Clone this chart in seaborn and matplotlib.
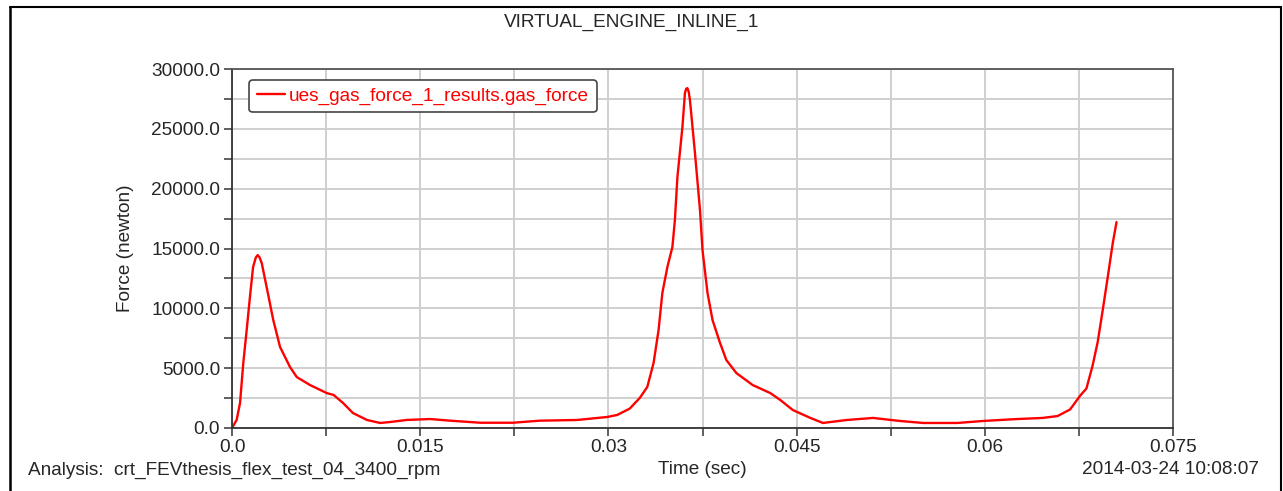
import matplotlib
matplotlib.use("Agg")
import matplotlib.pyplot as plt
from matplotlib.lines import Line2D
import seaborn as sns
import pandas as pd

# ---- data ----
time_sec = [0, 0.00037, 0.00064, 0.0009, 0.00117, 0.00143, 0.00168, 0.0019, 0.00205, 0.0022, 0.00237, 0.00276,
            0.00329, 0.00383, 0.00462, 0.00516, 0.00622, 0.00755, 0.0081, 0.00885, 0.00964, 0.01076,
            0.0118, 0.0126, 0.0139, 0.0158, 0.0174, 0.0198, 0.0224, 0.0245, 0.0275, 0.0299,
            0.0307, 0.0317, 0.0325, 0.0331, 0.0336, 0.0340, 0.0343, 0.0347, 0.0351, 0.0353,
            0.0355, 0.0359, 0.0361, 0.0362, 0.0363, 0.0364, 0.0365, 0.0369, 0.0373, 0.0375, 0.0379, 0.0383,
            0.0389, 0.0394, 0.0402, 0.0415, 0.0429, 0.0437, 0.0447, 0.0461, 0.0471, 0.049,
            0.0511, 0.0532, 0.0551, 0.0578, 0.0599, 0.0626, 0.0646, 0.0658, 0.0668, 0.0676,
            0.0681, 0.0686, 0.069, 0.0694, 0.0698, 0.0702, 0.0705]
gas_force = [0, 670, 2090, 5430, 8190, 10950, 13450, 14250, 14450, 14250, 13780, 11780,
             9020, 6770, 5100, 4260, 3590, 2920, 2760, 2090, 1250, 670,
             420, 500, 670, 750, 610, 440, 440, 610, 670, 920,
             1090, 1620, 2510, 3430, 5430, 8190, 11280, 13450, 15120, 17380,
             20970, 25150, 28000, 28350, 28400, 28100, 27400, 22970, 18210, 14870, 11280, 9020,
             7100, 5680, 4590, 3590, 2920, 2340, 1500, 840, 420, 670,
             840, 590, 420, 420, 590, 750, 840, 1000, 1550, 2700,
             3300, 5250, 7200, 9860, 12620, 15460, 17210]
series_name = "ues_gas_force_1_results.gas_force"
x_ticks = [0.0, 0.0075, 0.015, 0.0225, 0.03, 0.0375, 0.045, 0.0525, 0.06, 0.0675, 0.075]
x_tick_labels = ["0.0", "", "0.015", "", "0.03", "", "0.045", "", "0.06", "", "0.075"]
y_ticks = [0, 2500, 5000, 7500, 10000, 12500, 15000, 17500, 20000, 22500, 25000, 27500, 30000]
y_tick_labels = ["0.0", "", "5000.0", "", "10000.0", "", "15000.0", "", "20000.0", "", "25000.0", "", "30000.0"]
title = "VIRTUAL_ENGINE_INLINE_1"
x_label = "Time (sec)"
y_label = "Force (newton)"
analysis_text = "Analysis:  crt_FEVthesis_flex_test_04_3400_rpm"
date_text = "2014-03-24 10:08:07"

df = pd.DataFrame({"time": time_sec, "force": gas_force})

sns.set_style("ticks")
plt.rcParams["font.family"] = ["Liberation Sans", "DejaVu Sans"]
FS = 13.7

W, H = 1283, 491
fig = plt.figure(figsize=(W / 100, H / 100), dpi=100)
L, R, B, T = 232, 1173, 428, 69
ax = fig.add_axes([L / W, 1 - B / H, (R - L) / W, (B - T) / H])

sns.lineplot(data=df, x="time", y="force", color="red", lw=1.7, label=series_name,
             ax=ax, estimator=None, sort=False)

ax.set_xlim(0, 0.075)
ax.set_ylim(0, 30000)
ax.set_xticks(x_ticks)
ax.set_xticklabels(x_tick_labels, fontsize=FS)
ax.set_yticks(y_ticks)
ax.set_yticklabels(y_tick_labels, fontsize=FS)
ax.tick_params(axis="both", direction="out", length=6, width=1.2, color="#444444", pad=2)
ax.tick_params(axis="y", pad=2.5)
ax.grid(True, color="#cfcfcf", lw=1.4)
ax.set_axisbelow(True)
for s in ["left", "bottom"]:
    ax.spines[s].set_color("#333333")
    ax.spines[s].set_linewidth(1.3)
for s in ["top", "right"]:
    ax.spines[s].set_visible(True)
    ax.spines[s].set_color("#555555")
    ax.spines[s].set_linewidth(1.3)

ax.set_xlabel("")
ax.set_ylabel(y_label, fontsize=FS)
ax.yaxis.set_label_coords((134 - L) / (R - L), 0.5)

leg = ax.legend(loc="upper left", bbox_to_anchor=(0.018, 0.97), borderaxespad=0,
                fontsize=FS, frameon=True, fancybox=True, handlelength=1.5,
                handletextpad=0.2, borderpad=0.4, labelcolor="red")
leg.get_frame().set_edgecolor("#444444")
leg.get_frame().set_linewidth(1.2)
leg.get_frame().set_facecolor("white")
leg.get_frame().set_alpha(1)

fig.text(632 / W, 1 - 22 / H, title, ha="center", va="center", fontsize=FS)
fig.text(702 / W, 1 - 470 / H, x_label, ha="center", va="center", fontsize=FS)
fig.text(28 / W, 1 - 470 / H, analysis_text, ha="left", va="center", fontsize=FS)
fig.text(1259 / W, 1 - 470 / H, date_text, ha="right", va="center", fontsize=FS)

# outer frame
fig.add_artist(Line2D([10 / W, 10 / W], [0, 1 - 7 / H], color="black", lw=1.8, transform=fig.transFigure))
fig.add_artist(Line2D([10 / W, 1281 / W], [1 - 7 / H, 1 - 7 / H], color="black", lw=1.5, transform=fig.transFigure))
fig.add_artist(Line2D([1281 / W, 1281 / W], [0, 1 - 7 / H], color="black", lw=1.5, transform=fig.transFigure))

fig.savefig("out.png", dpi=100)
